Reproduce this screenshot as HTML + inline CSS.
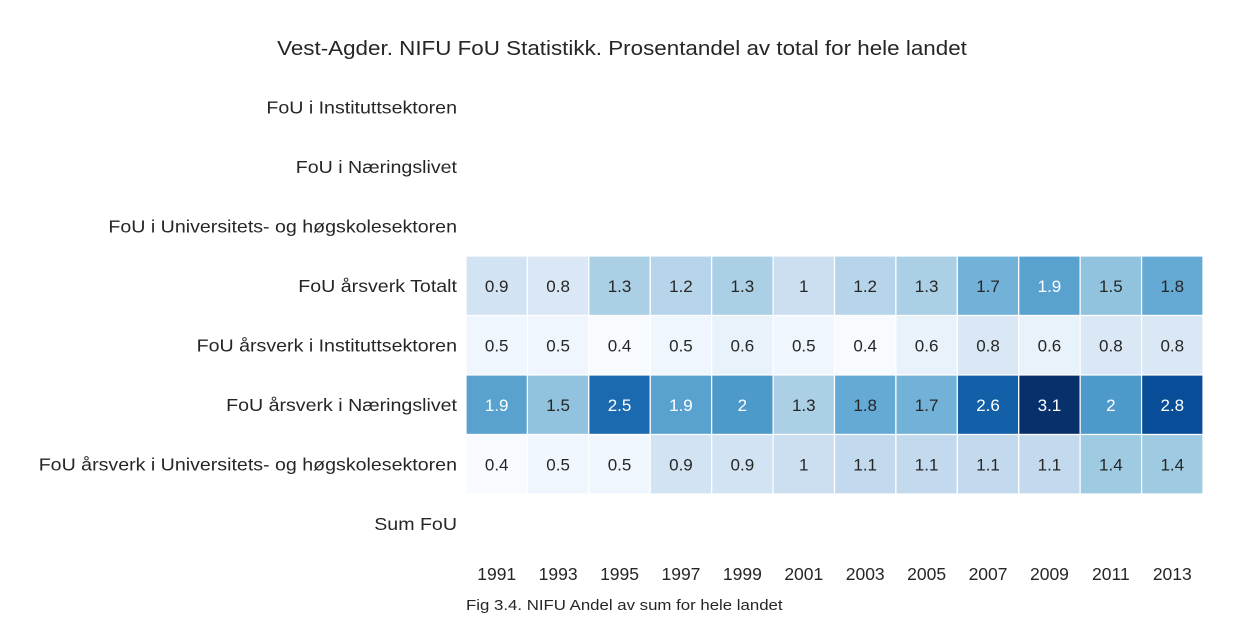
<!DOCTYPE html>
<html><head><meta charset="utf-8">
<style>
body{margin:0;background:#fff;}
svg text{font-family:"Liberation Sans",Arial,sans-serif;fill:#262626;}
</style></head>
<body>
<svg id="chart" width="1243" height="623" viewBox="0 0 1243 623">
<text id="title" x="622" y="55" text-anchor="middle" font-size="20">Vest-Agder. NIFU FoU Statistikk. Prosentandel av total for hele landet</text>
<text id="caption" x="466" y="610" font-size="15">Fig 3.4. NIFU Andel av sum for hele landet</text>
<g id="cells"></g>
<g id="ylabels"></g>
<g id="xlabels"></g>
</svg>
<script>
const years = ["1991","1993","1995","1997","1999","2001","2003","2005","2007","2009","2011","2013"];
const rows = ["FoU i Instituttsektoren","FoU i Næringslivet","FoU i Universitets- og høgskolesektoren","FoU årsverk Totalt","FoU årsverk i Instituttsektoren","FoU årsverk i Næringslivet","FoU årsverk i Universitets- og høgskolesektoren","Sum FoU"];
const rowTotal = [0.9,0.8,1.3,1.2,1.3,1,1.2,1.3,1.7,1.9,1.5,1.8];
const rowInst = [0.5,0.5,0.4,0.5,0.6,0.5,0.4,0.6,0.8,0.6,0.8,0.8];
const rowNaer = [1.9,1.5,2.5,1.9,2,1.3,1.8,1.7,2.6,3.1,2,2.8];
const rowUH = [0.4,0.5,0.5,0.9,0.9,1,1.1,1.1,1.1,1.1,1.4,1.4];
const values = [null,null,null,rowTotal,rowInst,rowNaer,rowUH,null];
const vmin = 0.4, vmax = 3.1;
const blues = ["#f7fbff","#deebf7","#c6dbef","#9ecae1","#6baed6","#4292c6","#2171b5","#08519c","#08306b"];
const x0 = 466, x1 = 1203, y0 = 77.5, y1 = 553.5;
const cw = (x1-x0)/years.length, rh = (y1-y0)/rows.length;
const xPos = i => x0 + i*cw;
const yPos = j => y0 + j*rh;
function hex(h){return [1,3,5].map(k=>parseInt(h.substr(k,2),16));}
function color(v){
  let t=Math.max(0,Math.min(1,(v-vmin)/(vmax-vmin)))*(blues.length-1);
  let i=Math.min(Math.floor(t),blues.length-2), f=t-i;
  let a=hex(blues[i]), b=hex(blues[i+1]);
  let c=a.map((x,k)=>Math.round(x+(b[k]-x)*f));
  return {fill:`rgb(${c[0]},${c[1]},${c[2]})`, lum:(0.299*c[0]+0.587*c[1]+0.114*c[2])};
}
function stretch(t,f){const w=t.getComputedTextLength();t.setAttribute('textLength',w*f);t.setAttribute('lengthAdjust','spacingAndGlyphs');}
const NS="http://www.w3.org/2000/svg";
const cells=document.getElementById('cells');
values.forEach((row,j)=>{
  if(!row) return;
  row.forEach((v,i)=>{
    const c=color(v);
    const r=document.createElementNS(NS,'rect');
    r.setAttribute('x',xPos(i));r.setAttribute('y',yPos(j));
    r.setAttribute('width',cw);r.setAttribute('height',rh);
    r.setAttribute('fill',c.fill);r.setAttribute('stroke','#fff');r.setAttribute('stroke-width','1.2');
    
    
    cells.appendChild(r);
    const t=document.createElementNS(NS,'text');
    t.setAttribute('x',xPos(i)+cw/2);t.setAttribute('y',yPos(j)+rh/2+6);
    t.setAttribute('text-anchor','middle');t.setAttribute('font-size','17');
    t.style.fill=c.lum<150?'#fff':'#262626';
    t.textContent=String(v);
    
    
    cells.appendChild(t);
  });
});
const yl=document.getElementById('ylabels');
rows.forEach((n,j)=>{
  const t=document.createElementNS(NS,'text');
  t.setAttribute('x',457);t.setAttribute('y',yPos(j)+rh/2+6);
  t.setAttribute('text-anchor','end');t.setAttribute('font-size','17.5');
  t.textContent=n;
  
  
  yl.appendChild(t);
  stretch(t,1.12);
});
const xl=document.getElementById('xlabels');
years.forEach((n,i)=>{
  const t=document.createElementNS(NS,'text');
  t.setAttribute('x',xPos(i)+cw/2);t.setAttribute('y',580);
  t.setAttribute('text-anchor','middle');t.setAttribute('font-size','17.5');
  t.textContent=n;
  
  
  xl.appendChild(t);
});
stretch(document.getElementById('title'),1.12);
stretch(document.getElementById('caption'),1.12);
</script>
</body></html>
